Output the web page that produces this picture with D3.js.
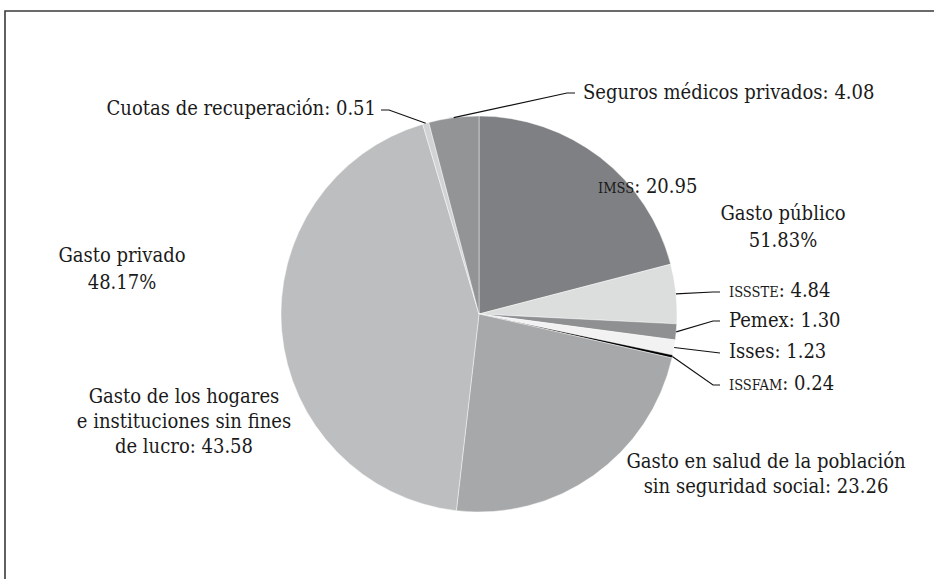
<!DOCTYPE html>
<meta charset="utf-8">
<style>
    html,
    body {
        margin: 0;
        padding: 0;
        background: #fff;
    }

    text {
        font-family: "DejaVu Serif Condensed", "DejaVu Serif", serif;
        font-stretch: condensed;
        font-size: 20px;
        fill: #1a1a1a;
    }

    .leader {
        fill: none;
        stroke: #111;
        stroke-width: 1.2px;
    }

    .slices path {
        stroke: #fff;
        stroke-opacity: 0.55;
        stroke-width: 0.8px;
    }
</style>
<svg id="canvas" width="934" height="579"></svg>
<script src="https://d3js.org/d3.v7.min.js"></script>
<script>
    // slices, clockwise from 12 o'clock
    const labels = [
        "IMSS",
        "ISSSTE",
        "Pemex",
        "Isses",
        "ISSFAM",
        "Gasto en salud de la población\nsin seguridad social",
        "Gasto de los hogares\ne instituciones sin fines\nde lucro",
        "Cuotas de recuperación",
        "Seguros médicos privados"
    ];
    const values = [20.95, 4.84, 1.30, 1.23, 0.24, 23.26, 43.58, 0.51, 4.08];
    const shades = ["#7f8083", "#dcdddd", "#8f9092", "#f2f2f2", "#000000",
        "#a7a8aa", "#bdbebf", "#d2d3d4", "#939496"];
    const smallCaps = ["IMSS", "ISSSTE", "ISSFAM"];

    // group totals
    const groupNames = ["Gasto público", "Gasto privado"];
    const groupShares = ["51.83%", "48.17%"];

    var svg = d3.select("svg"),
        width = +svg.attr("width"),
        height = +svg.attr("height");

    var cx = 479,
        cy = 314,
        radius = 198,
        lineGap = 25;

    // label placement (layout only)
    var labelPos = [
        { x: 598, y: 193, anchor: "start" },
        { x: 729, y: 297, anchor: "start", bend: [713, 292], end: [720, 292] },
        { x: 729, y: 327, anchor: "start", bend: [713, 321], end: [720, 321] },
        { x: 729, y: 358, anchor: "start", bend: null, end: [720, 353] },
        { x: 729, y: 390, anchor: "start", bend: [713, 385], end: [720, 385] },
        { x: 766, y: 468, anchor: "middle" },
        { x: 184, y: 403, anchor: "middle" },
        { x: 376, y: 115, anchor: "end", bend: [389, 110], end: [381, 110] },
        { x: 583, y: 99, anchor: "start", bend: [567, 93], end: [575, 93] }
    ];
    var groupPos = [
        { x: 783, y: 220 },
        { x: 122, y: 262 }
    ];

    // frame
    svg.append("path")
        .attr("d", "M5," + height + "V11H" + width)
        .attr("fill", "none")
        .attr("stroke", "#3a3a3a")
        .attr("stroke-width", 1.6);

    var pie = d3.pie().sort(null).value(function(d) { return d; });
    var arc = d3.arc().innerRadius(0).outerRadius(radius);
    var arcs = pie(values);

    var g = svg.append("g").attr("transform", "translate(" + cx + "," + cy + ")");

    g.append("g")
        .attr("class", "slices")
        .selectAll("path")
        .data(arcs)
        .enter().append("path")
        .attr("d", arc)
        .attr("fill", function(d, i) { return shades[i]; });

    var fmt = d3.format(".2f");

    // leader lines from the rim at each slice's mid angle
    arcs.forEach(function(a, i) {
        var p = labelPos[i];
        if (!p.end) return;
        var mid = (a.startAngle + a.endAngle) / 2;
        var pts = [[cx + radius * Math.sin(mid), cy - radius * Math.cos(mid)]];
        if (p.bend) pts.push(p.bend);
        pts.push(p.end);
        svg.append("path")
            .attr("class", "leader")
            .attr("d", d3.line()(pts));
    });

    // slice labels
    labels.forEach(function(name, i) {
        var p = labelPos[i];
        var lines = name.split("\n");
        var t = svg.append("text")
            .attr("text-anchor", p.anchor);
        lines.forEach(function(line, k) {
            var last = k === lines.length - 1;
            var span = t.append("tspan")
                .attr("x", p.x)
                .attr("y", p.y + k * lineGap);
            if (smallCaps.indexOf(line) >= 0) {
                span.append("tspan").style("font-size", "14.5px").text(line);
                span.append("tspan").text(": " + fmt(values[i]));
            } else {
                span.text(last ? line + ": " + fmt(values[i]) : line);
            }
        });
    });

    // group totals
    groupNames.forEach(function(name, i) {
        var p = groupPos[i];
        var t = svg.append("text").attr("text-anchor", "middle");
        t.append("tspan").attr("x", p.x).attr("y", p.y).text(name);
        t.append("tspan").attr("x", p.x).attr("y", p.y + 27).text(groupShares[i]);
    });
</script>
